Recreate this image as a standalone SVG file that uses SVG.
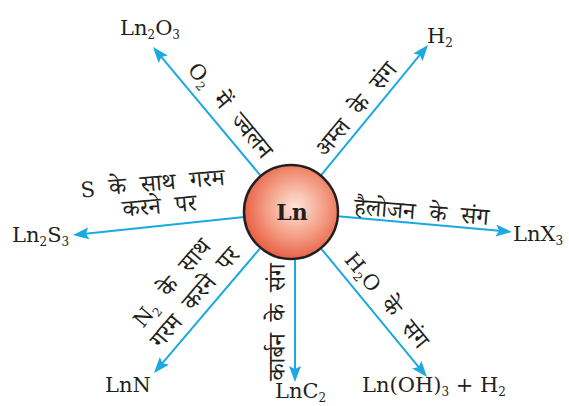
<svg xmlns="http://www.w3.org/2000/svg" width="569" height="406" viewBox="0 0 569 406">
<style>
.f{font-family:"DejaVu Serif","Liberation Serif",serif;font-size:21px;fill:#231f20}
.h{font-family:"Noto Serif Devanagari","Noto Sans Devanagari","Lohit Devanagari","DejaVu Serif",serif;font-size:24px;word-spacing:8px;fill:#231f20}
.l{font-family:"DejaVu Serif","Liberation Serif",serif;font-size:21px}
.s{font-family:"DejaVu Serif","Liberation Serif",serif;font-size:12px}
.c{stroke:#1aa9e1;stroke-width:2;fill:none;marker-end:url(#ah)}
</style>
<defs>
<marker id="ah" viewBox="0 0 16 12" refX="6" refY="6" markerWidth="16" markerHeight="12" markerUnits="userSpaceOnUse" orient="auto">
<path d="M0,0 L16,6 L0,12 L3,6 Z" fill="#1aa9e1"/>
</marker>
<radialGradient id="g" cx="55%" cy="45%" r="60%">
<stop offset="0" stop-color="#fde6dc"/>
<stop offset="0.55" stop-color="#f39a80"/>
<stop offset="1" stop-color="#e5553b"/>
</radialGradient>
</defs>
<g id="connectors">
<line class="c" x1="260.8" y1="175.9" x2="159.4" y2="54.7"/>
<line class="c" x1="320.8" y1="175.7" x2="421.7" y2="52.7"/>
<line class="c" x1="244.3" y1="216.9" x2="82.9" y2="234.0"/>
<line class="c" x1="337.8" y1="216.2" x2="502.0" y2="231.1"/>
<line class="c" x1="260.5" y1="247.8" x2="160.5" y2="365.4"/>
<line class="c" x1="295" y1="258.8" x2="295" y2="372"/>
<line class="c" x1="320.9" y1="248.3" x2="420.6" y2="369.3"/>
</g>
<g id="ln">
<circle cx="291" cy="212" r="47" fill="url(#g)" stroke="#231f20" stroke-width="2.5"/>
<text x="292" y="220" text-anchor="middle" style="font-family:'DejaVu Serif','Liberation Serif',serif;font-weight:bold;font-size:22px;fill:#231f20">Ln</text>
</g>
<g id="ln2o3"><text class="f" x="120" y="35">Ln<tspan font-size="12" dy="4">2</tspan><tspan dy="-4">O</tspan><tspan font-size="12" dy="4">3</tspan></text></g>
<g id="h2"><text class="f" x="427" y="43">H<tspan font-size="12" dy="4">2</tspan></text></g>
<g id="ln2s3"><text class="f" x="12" y="242">Ln<tspan font-size="12" dy="4">2</tspan><tspan dy="-4">S</tspan><tspan font-size="12" dy="4">3</tspan></text></g>
<g id="lnx3"><text class="f" x="513" y="241">LnX<tspan font-size="12" dy="4">3</tspan></text></g>
<g id="lnn"><text class="f" x="105" y="392">LnN</text></g>
<g id="lnc2"><text class="f" x="275" y="398">LnC<tspan font-size="12" dy="4">2</tspan></text></g>
<g id="lnoh3"><text class="f" x="362" y="392">Ln(OH)<tspan font-size="12" dy="4">3</tspan><tspan dy="-4"> + H</tspan><tspan font-size="12" dy="4">2</tspan></text></g>
<g id="labels">
<text class="h" transform="translate(153,47) rotate(50.1)" x="98" y="-11" text-anchor="middle"><tspan class="l">O</tspan><tspan class="s" dy="4">2</tspan><tspan dy="-4"> में ज्वलन</tspan></text>
<text class="h" transform="translate(320.8,175.7) rotate(-50.6)" x="74" y="-7" text-anchor="middle">अम्ल के संग</text>
<g transform="rotate(-5,157,200)">
<text class="h" x="154" y="191" text-anchor="middle"><tspan class="l">S</tspan> के साथ गरम</text>
<text class="h" x="159" y="214" text-anchor="middle">करने पर</text>
</g>
<text class="h" transform="rotate(4.5,421,221)" x="421" y="220" text-anchor="middle">हैलोजन के संग</text>
<g transform="translate(154,373) rotate(-49.6)">
<text class="h" x="80" y="-37" text-anchor="middle"><tspan class="l">N</tspan><tspan class="s" dy="4">2</tspan><tspan dy="-4"> के साथ</tspan></text>
<text class="h" x="84" y="-10" text-anchor="middle">गरम करने पर</text>
</g>
<text class="h" transform="translate(285,322) rotate(-90)" text-anchor="middle" style="word-spacing:6px">कार्बन के संग</text>
<text class="h" transform="translate(320.9,248.3) rotate(50.5)" x="82" y="-10" text-anchor="middle"><tspan class="l">H</tspan><tspan class="s" dy="4">2</tspan><tspan class="l" dy="-4">O</tspan> के संग</text>
</g>
</svg>
